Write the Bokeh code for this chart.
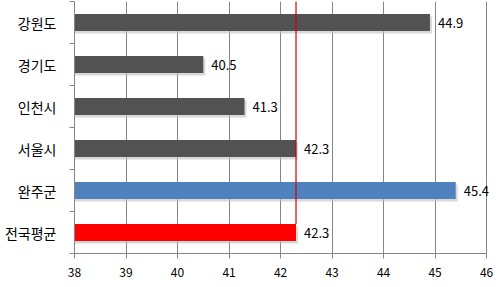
from bokeh.plotting import figure
from bokeh.models import ColumnDataSource, FixedTicker, Range1d, LabelSet
from bokeh.core.properties import value
from bokeh.embed import file_html
from bokeh.resources import INLINE

categories = ["강원도", "경기도", "인천시", "서울시", "완주군", "전국평균"]
values = [44.9, 40.5, 41.3, 42.3, 45.4, 42.3]
colors = ["#525252", "#525252", "#525252", "#525252", "#4f81bd", "#ff0000"]
x_ticks = [38, 39, 40, 41, 42, 43, 44, 45, 46]

n = len(categories)
ys = [n - i - 0.5 for i in range(n)]
avg = values[-1]

p = figure(width=501, height=287, output_backend="svg", toolbar_location=None,
           x_range=Range1d(38, 46.25), y_range=Range1d(0, n),
           min_border_left=74, min_border_right=2, min_border_top=1, min_border_bottom=34)
p.outline_line_color = None
p.background_fill_color = "white"

src = ColumnDataSource(dict(y=ys, v=values, c=colors, cat=categories,
                            lab=[f"{v:.1f}" for v in values],
                            ys=[y - 0.06 for y in ys], vs=[v + 0.04 for v in values]))

# shadows
p.hbar(y="ys", left=38, right="vs", height=0.4, source=src,
       fill_color="#bfbfbf", fill_alpha=0.6, line_color=None)
p.hbar(y="y", left=38, right="v", height=0.4, source=src,
       fill_color="c", line_color=None)

# average reference line
p.segment(x0=[avg], x1=[avg], y0=[n], y1=[ys[-1] + 0.2], line_color="#d40000", line_width=1.2)

labels = LabelSet(x="v", y="y", text="lab", source=src, x_offset=8, y_offset=0,
                  text_baseline="middle", text_font_size=value("13px"),
                  text_font=value("Noto Sans CJK KR"), text_color="#000000")
p.add_layout(labels)

# axes
p.xaxis.ticker = FixedTicker(ticks=x_ticks)
p.xaxis.bounds = (38, 46)
p.xaxis.axis_line_color = "#868686"
p.xaxis.major_tick_line_color = "#868686"
p.xaxis.major_tick_out = 5
p.xaxis.major_tick_in = 0
p.xaxis.minor_tick_line_color = None
p.xaxis.major_label_text_font = "Noto Sans CJK KR"
p.xaxis.major_label_text_font_size = "12px"
p.xaxis.major_label_text_color = "#000000"
p.xaxis.major_label_standoff = 9

p.yaxis.ticker = FixedTicker(ticks=ys, minor_ticks=list(range(n + 1)))
p.yaxis.major_label_overrides = {y: c for y, c in zip(ys, categories)}
p.yaxis.axis_line_color = "#868686"
p.yaxis.major_tick_line_color = None
p.yaxis.major_tick_out = 0
p.yaxis.major_tick_in = 0
p.yaxis.minor_tick_line_color = "#868686"
p.yaxis.minor_tick_out = 5
p.yaxis.minor_tick_in = 0
p.yaxis.major_label_text_font = "Noto Sans CJK KR"
p.yaxis.major_label_text_font_size = "14px"
p.yaxis.major_label_text_color = "#000000"
p.yaxis.major_label_standoff = 13

p.xgrid.ticker = FixedTicker(ticks=x_ticks[1:])
p.xgrid.grid_line_color = "#868686"
p.xgrid.grid_line_width = 1
p.ygrid.grid_line_color = None
p.xgrid.level = "underlay"

open("out.html", "w").write(file_html(p, INLINE))
